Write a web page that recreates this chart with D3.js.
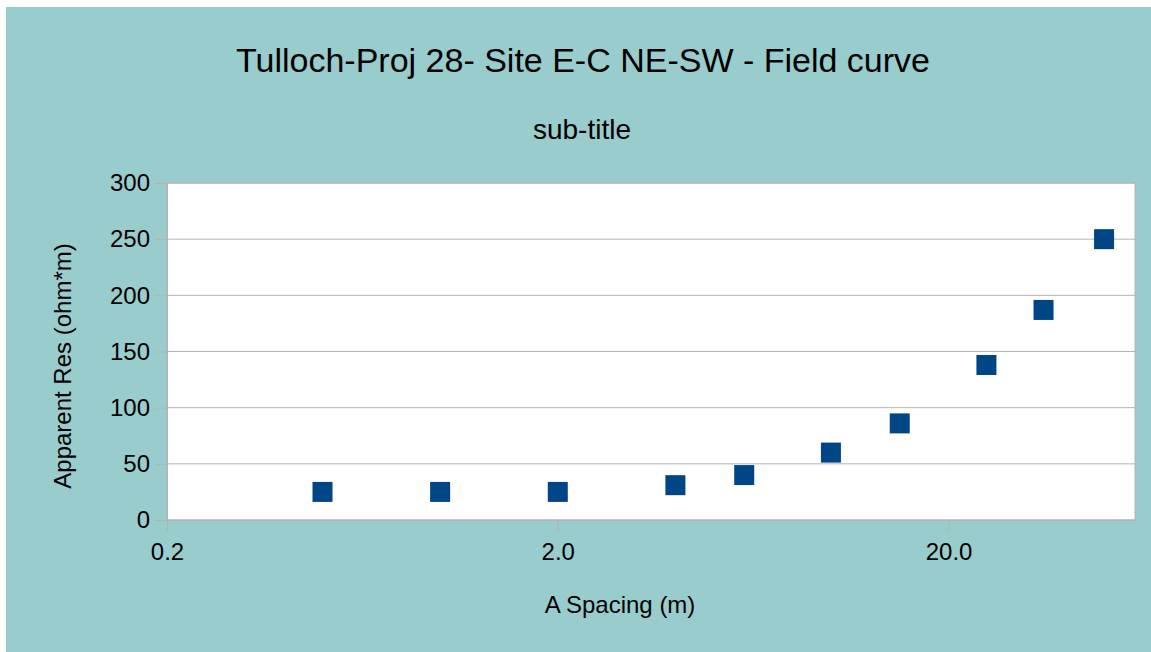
<!DOCTYPE html>
<html>
<head>
<meta charset="utf-8">
<script src="https://cdn.jsdelivr.net/npm/d3@7"></script>
<style>
  html, body { margin: 0; padding: 0; background: #ffffff; }
  svg { display: block; }
  text { font-family: "Liberation Sans", Arial, sans-serif; fill: #000; }
</style>
</head>
<body>
<svg id="chart" width="1151" height="652"></svg>
<script>
// Field curve: apparent resistivity vs electrode A spacing
const spacing = [0.5, 1, 2, 4, 6, 10, 15, 25, 35, 50];
const apparentRes = [25, 25, 25, 31, 40, 60, 86, 138, 187, 250];
const xTicks = [0.2, 2, 20];
const yTicks = [0, 50, 100, 150, 200, 250, 300];

const titleText = "Tulloch-Proj 28- Site E-C NE-SW - Field curve";
const subTitleText = "sub-title";
const xTitle = "A Spacing (m)";
const yTitle = "Apparent Res (ohm*m)";

const W = 1151, H = 652;
const plot = { left: 167, right: 1135, top: 183, bottom: 520 };

const svg = d3.select("#chart");

// chart background
svg.append("rect")
  .attr("x", 6).attr("y", 7)
  .attr("width", W - 6).attr("height", H - 7)
  .attr("fill", "#99cccc");

// plot area
svg.append("rect")
  .attr("x", plot.left).attr("y", plot.top)
  .attr("width", plot.right - plot.left).attr("height", plot.bottom - plot.top)
  .attr("fill", "#ffffff")
  .attr("stroke", "#b3b3b3").attr("stroke-width", 1);

const x = d3.scaleLog().domain([0.2, 60]).range([plot.left, plot.right]);
const y = d3.scaleLinear().domain([0, 300]).range([plot.bottom, plot.top]);

// horizontal grid lines
svg.append("g")
  .selectAll("line")
  .data(yTicks)
  .join("line")
  .attr("x1", plot.left).attr("x2", plot.right)
  .attr("y1", d => y(d)).attr("y2", d => y(d))
  .attr("stroke", "#b3b3b3").attr("stroke-width", 1);

// y axis
const yAxis = svg.append("g")
  .attr("transform", `translate(${plot.left},0)`)
  .call(d3.axisLeft(y).tickValues(yTicks).tickSizeInner(12).tickSizeOuter(0)
    .tickPadding(5).tickFormat(d3.format("d")));
yAxis.select(".domain").attr("stroke", "#b3b3b3");
yAxis.selectAll(".tick line").attr("stroke", "#b3b3b3");
yAxis.selectAll(".tick text")
  .style("font-size", "24px")
  .style("font-family", "'Liberation Sans', Arial, sans-serif")
  .attr("fill", "#000");

// x axis
const xAxis = svg.append("g")
  .attr("transform", `translate(0,${plot.bottom})`)
  .call(d3.axisBottom(x).tickValues(xTicks).tickSizeInner(11).tickSizeOuter(0)
    .tickPadding(12).tickFormat(d3.format(".1f")));
xAxis.select(".domain").attr("stroke", "#b3b3b3");
xAxis.selectAll(".tick line").attr("stroke", "#b3b3b3");
xAxis.selectAll(".tick text")
  .style("font-size", "24px")
  .style("font-family", "'Liberation Sans', Arial, sans-serif")
  .attr("fill", "#000");

// data markers
const size = 20;
svg.append("g")
  .selectAll("rect")
  .data(spacing.map((s, i) => ({ s, r: apparentRes[i] })))
  .join("rect")
  .attr("x", d => x(d.s) - size / 2)
  .attr("y", d => y(d.r) - size / 2)
  .attr("width", size).attr("height", size)
  .attr("fill", "#004586");

// titles
svg.append("text")
  .attr("x", 583).attr("y", 72)
  .attr("text-anchor", "middle")
  .style("font-size", "34px")
  .text(titleText);

svg.append("text")
  .attr("x", 582).attr("y", 139)
  .attr("text-anchor", "middle")
  .style("font-size", "28px")
  .text(subTitleText);

svg.append("text")
  .attr("x", 620).attr("y", 613)
  .attr("text-anchor", "middle")
  .style("font-size", "24px")
  .text(xTitle);

svg.append("text")
  .attr("transform", `translate(71,366) rotate(-90)`)
  .attr("text-anchor", "middle")
  .style("font-size", "24px")
  .text(yTitle);
</script>
</body>
</html>
